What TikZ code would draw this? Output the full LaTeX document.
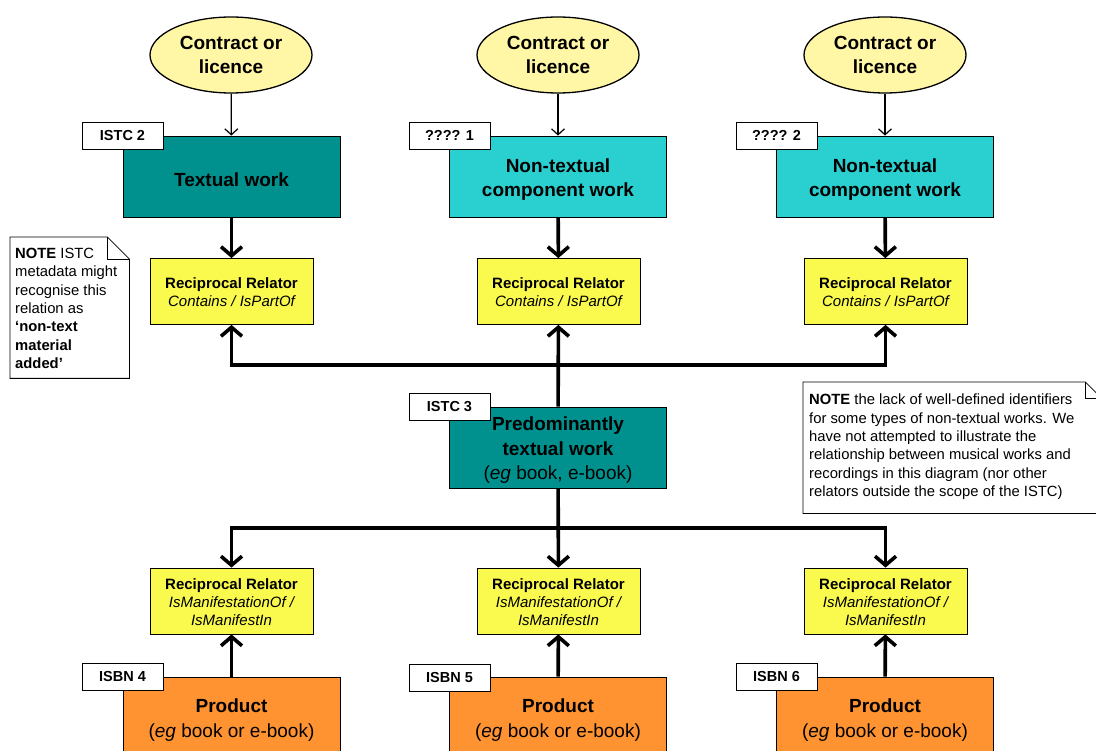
\documentclass[tikz,border=0pt]{standalone}
\usepackage{fontspec}
\setmainfont{Liberation Sans}
\usetikzlibrary{arrows.meta,shapes.geometric}
\definecolor{tealbox}{RGB}{0,145,142}
\definecolor{cyanbox}{RGB}{42,207,208}
\definecolor{relyel}{RGB}{250,250,78}
\definecolor{ellyel}{RGB}{255,247,165}
\definecolor{orgbox}{RGB}{255,147,50}
\newcommand\dnstrut{\rule{0pt}{19.5pt}}
\newcommand\rlstrut{\rule{0pt}{13pt}}
\begin{document}
\begin{tikzpicture}[x=1pt,y=-1pt,
  ellip/.style={ellipse, draw, line width=1.3pt, fill=ellyel, minimum width=162pt, minimum height=76pt,
    inner sep=0pt, align=center, font=\fontsize{19}{24}\selectfont\bfseries},
  workbox/.style={rectangle, draw, line width=0.8pt, minimum width=217pt, minimum height=81pt,
    inner sep=0pt, align=center, font=\fontsize{19}{24.5}\selectfont},
  idlab/.style={rectangle, draw, fill=white, line width=0.8pt, minimum width=81pt, minimum height=27pt,
    inner sep=0pt, font=\fontsize{14.5}{16}\selectfont\bfseries},
  relbox/.style={rectangle, draw, line width=0.8pt, fill=relyel, minimum width=163pt, minimum height=66pt,
    inner sep=0pt, align=center, font=\fontsize{15}{18}\selectfont},
  notebox/.style={rectangle, inner sep=0pt, anchor=north west},
  notetext/.style={anchor=north west, inner sep=0pt, align=left, font=\fontsize{14.8}{18.3}\selectfont},
  thinarrow/.style={line width=1.2pt, -{Straight Barb[length=6pt,width=13pt]}},
  thickarrow/.style={line width=3.6pt, -{Straight Barb[length=9pt,width=21pt]}},
  thickline/.style={line width=3.6pt}
]
\useasboundingbox (0,0) rectangle (1096,751);
\clip (0,0) rectangle (1096,751);

% contracts
\node[ellip] (c1) at (231,55) {Contract or\\licence};
\node[ellip] (c2) at (558,55) {Contract or\\licence};
\node[ellip] (c3) at (885,55) {Contract or\\licence};

% works
\node[workbox, fill=tealbox] (w1) at (231.5,176.5) {\dnstrut\bfseries Textual work};
\node[workbox, fill=cyanbox] (w2) at (558,176.5) {\dnstrut\bfseries Non-textual\\\bfseries component work};
\node[workbox, fill=cyanbox] (w4) at (885,176.5) {\dnstrut\bfseries Non-textual\\\bfseries component work};
\node[idlab] (l1) at (122.5,135.5) {ISTC 2};
\node[idlab] (l2) at (449.5,135.5) {???? 1};
\node[idlab] (l3) at (776.5,135.5) {???? 2};

% relators top
\node[relbox] (r1) at (231.5,291.5) {\rlstrut\bfseries Reciprocal Relator\\\itshape Contains / IsPartOf};
\node[relbox] (r2) at (558.5,291.5) {\rlstrut\bfseries Reciprocal Relator\\\itshape Contains / IsPartOf};
\node[relbox] (r3) at (885.5,291.5) {\rlstrut\bfseries Reciprocal Relator\\\itshape Contains / IsPartOf};

% central work
\node[workbox, fill=tealbox] (w3) at (558,447.5) {\dnstrut\bfseries Predominantly\\\bfseries textual work\\(\textit{eg} book, e-book)};
\node[idlab] (l4) at (449.5,406.5) {ISTC 3};

% relators bottom
\node[relbox] (b1) at (231.5,601) {\rlstrut\bfseries Reciprocal Relator\\\itshape IsManifestationOf /\\\itshape IsManifestIn};
\node[relbox] (b2) at (558.5,601) {\rlstrut\bfseries Reciprocal Relator\\\itshape IsManifestationOf /\\\itshape IsManifestIn};
\node[relbox] (b3) at (885.5,601) {\rlstrut\bfseries Reciprocal Relator\\\itshape IsManifestationOf /\\\itshape IsManifestIn};

% products
\node[workbox, fill=orgbox, minimum height=80pt] (p1) at (231.5,717) {\dnstrut\bfseries Product\\(\textit{eg} book or e-book)};
\node[workbox, fill=orgbox, minimum height=80pt] (p2) at (558,717) {\dnstrut\bfseries Product\\(\textit{eg} book or e-book)};
\node[workbox, fill=orgbox, minimum height=80pt] (p3) at (885,717) {\dnstrut\bfseries Product\\(\textit{eg} book or e-book)};
\node[idlab] (l5) at (122.5,677) {ISBN 4};
\node[idlab] (l6) at (449.5,678) {ISBN 5};
\node[idlab] (l7) at (776.5,677) {ISBN 6};

% connectors
\draw[thinarrow] (c1) -- (w1);
\draw[thinarrow] (c2) -- (w2);
\draw[thinarrow] (c3) -- (w4);
\draw[thickarrow] (w1) -- (r1);
\draw[thickarrow] (w2) -- (r2);
\draw[thickarrow] (w4) -- (r3);

\coordinate (j1) at (558,365);
\draw[thickarrow] (w3) -- (r2);
\draw[thickarrow] (j1) -| (r1);
\draw[thickarrow] (j1) -| (r3);

\coordinate (j2) at (558,528);
\draw[thickarrow] (w3) -- (b2);
\draw[thickarrow] (j2) -| (b1);
\draw[thickarrow] (j2) -| (b3);

\draw[thickarrow] (p1) -- (b1);
\draw[thickarrow] (p2) -- (b2);
\draw[thickarrow] (p3) -- (b3);

% notes
\node[notebox, minimum width=119pt, minimum height=141pt] (n1) at (10,237) {};
\draw[line width=0.8pt, fill=white] (n1.north west) -- ([xshift=-22pt]n1.north east)
  -- ([yshift=-22pt]n1.north east) -- (n1.south east) -- (n1.south west) -- cycle;
\draw[line width=0.8pt] ([xshift=-22pt]n1.north east) |- ([yshift=-22pt]n1.north east);
\node[notetext] (t1) at (15,248) {\textbf{NOTE} ISTC\\metadata might\\recognise this\\relation as\\\textbf{‘non-text}\\\textbf{material}\\\textbf{added’}};

\node[notebox, minimum width=298pt, minimum height=131pt] (n2) at (803,382) {};
\draw[line width=0.8pt, fill=white] (n2.north west) -- ([xshift=-16pt]n2.north east)
  -- ([yshift=-16pt]n2.north east) -- (n2.south east) -- (n2.south west) -- cycle;
\draw[line width=0.8pt] ([xshift=-16pt]n2.north east) |- ([yshift=-16pt]n2.north east);
\node[notetext] (t2) at (809,394) {\textbf{NOTE} the lack of well-defined identifiers\\for some types of non-textual works. We\\have not attempted to illustrate the\\relationship between musical works and\\recordings in this diagram (nor other\\relators outside the scope of the ISTC)};
\end{tikzpicture}
\end{document}
